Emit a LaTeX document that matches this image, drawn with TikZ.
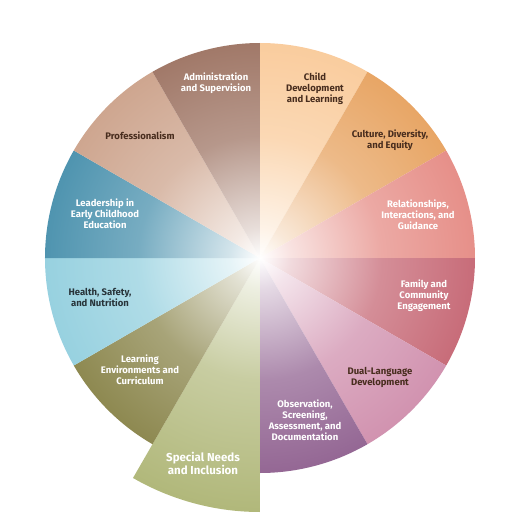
\documentclass[tikz,border=0pt]{standalone}
\usepackage{fontspec}
\setmainfont{Fira Sans}
\usetikzlibrary{positioning}

\definecolor{ChildPeach}{RGB}{248,192,134}
\definecolor{CultureOrange}{RGB}{226,144,64}
\definecolor{RelSalmon}{RGB}{224,116,108}
\definecolor{FamilyRed}{RGB}{186,72,88}
\definecolor{DualPink}{RGB}{198,120,156}
\definecolor{ObsPurple}{RGB}{122,66,122}
\definecolor{SpecialOlive}{RGB}{166,174,104}
\definecolor{LearnOlive}{RGB}{114,108,38}
\definecolor{HealthBlue}{RGB}{126,198,216}
\definecolor{LeadTeal}{RGB}{36,122,156}
\definecolor{ProfTan}{RGB}{194,144,116}
\definecolor{AdminBrown}{RGB}{138,88,68}
\definecolor{DarkBrownText}{RGB}{72,45,30}
\definecolor{DarkGrayText}{RGB}{40,52,58}
\colorlet{wedgecol}{white}

\pgfdeclareradialshading[wedgecol]{wheelfade}{\pgfpoint{0bp}{0bp}}{%
  color(0bp)=(white); color(3bp)=(wedgecol!20!white);
  color(12bp)=(wedgecol!62!white); color(25bp)=(wedgecol!88!white);
  color(42bp)=(wedgecol); color(50bp)=(wedgecol)}

\tikzset{
  wedgelabel/.style={font=\fontsize{9.5}{11}\selectfont\bfseries,
                     align=center, inner sep=0pt},
  lighttext/.style={wedgelabel, text=white},
  darktext/.style={wedgelabel, text=DarkBrownText},
}

\begin{document}
\begin{tikzpicture}[x=1pt,y=1pt]
\useasboundingbox (-260,-262) rectangle (260,258);

% twelve wedges, each fading out to white at the hub
\foreach \start/\col/\rad in {60/ChildPeach/215, 30/CultureOrange/215,
    0/RelSalmon/215, -30/FamilyRed/215, -60/DualPink/215,
    -90/ObsPurple/215, -120/SpecialOlive/254, -150/LearnOlive/215,
    180/HealthBlue/215, 150/LeadTeal/215, 120/ProfTan/215,
    90/AdminBrown/215}{
  \colorlet{wedgecol}{\col}
  \begin{scope}
    \clip (0,0) -- (\start:\rad) arc[start angle=\start, delta angle=30,
          radius=\rad] -- cycle;
    \shade[shading=wheelfade] (0,0) circle (254);
  \end{scope}
}

% labels
\node[darktext]  (child)   at (55,169)    {Child\\Development\\and Learning};
\node[darktext]  (culture) at (130,118)   {Culture, Diversity,\\and Equity};
\node[lighttext] (relate)  at (158,43)    {Relationships,\\Interactions, and\\Guidance};
\node[lighttext] (family)  at (164,-38)   {Family and\\Community\\Engagement};
\node[darktext]  (dual)    at (120,-119)  {Dual-Language\\Development};
\node[lighttext] (observe) at (45,-162)   {Observation,\\Screening,\\Assessment, and\\Documentation};
\node[lighttext, font=\fontsize{11.5}{13}\selectfont\bfseries]
                 (special) at (-57,-205)  {Special Needs\\and Inclusion};
\node[lighttext] (learn)   at (-120,-112) {Learning\\Environments and\\Curriculum};
\node[wedgelabel, text=DarkGrayText]
                 (health)  at (-160,-39)  {Health, Safety,\\and Nutrition};
\node[lighttext] (lead)    at (-155,44)   {Leadership in\\Early Childhood\\Education};
\node[darktext]  (prof)    at (-120,122)  {Professionalism};
\node[lighttext] (admin)   at (-44,175)   {Administration\\and Supervision};
\end{tikzpicture}
\end{document}
